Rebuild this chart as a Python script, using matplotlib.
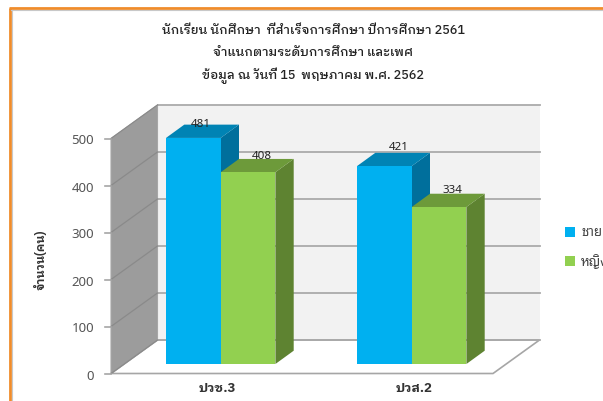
import matplotlib
matplotlib.use('Agg')
import matplotlib.pyplot as plt

plt.rcParams['font.family'] = ['Noto Sans Thai Looped', 'Noto Sans', 'DejaVu Sans']
HEAD = ['IBM Plex Sans Thai Looped', 'Noto Sans Thai Looped', 'DejaVu Sans']

categories = ['ปวช.3', 'ปวส.2']
series_names = ['ชาย', 'หญิง']
male = [481, 421]
female = [408, 334]
yticks = [0, 100, 200, 300, 400, 500]
title_lines = ['นักเรียน นักศึกษา  ที่สำเร็จการศึกษา ปีการศึกษา 2561',
               'จำแนกตามระดับการศึกษา และเพศ',
               'ข้อมูล ณ วันที่ 15  พฤษภาคม พ.ศ. 2562']
ylabel = 'จำนวน(คน)'

W, H = 603, 401
fig = plt.figure(figsize=(W/100, H/100), dpi=100)
ax = fig.add_axes([0, 0, 1, 1])
ax.set_xlim(0, W); ax.set_ylim(H, 0); ax.axis('off')

def val(v):
    return 373.5 - v*0.47

FX0, FX1, DX, DY = 111, 493, 46.5, 33.5
BX1 = FX1 + DX
ax.add_patch(plt.Polygon([(FX0+DX, val(500)-DY), (BX1, val(500)-DY), (BX1, val(0)-DY), (FX0+DX, val(0)-DY)], fc='#f2f2f2', ec='none', zorder=1))
ax.add_patch(plt.Polygon([(FX0, val(0)), (FX1, val(0)), (BX1, val(0)-DY), (FX0+DX, val(0)-DY)], fc='white', ec='#a6a6a6', lw=1.2, zorder=2))
ax.add_patch(plt.Polygon([(FX0, val(500)), (FX0+DX, val(500)-DY), (FX0+DX, val(0)-DY), (FX0, val(0))], fc='#9c9c9c', ec='#a6a6a6', lw=0.8, zorder=2))
for t in yticks:
    y = val(t)
    ax.plot([FX0, FX0+DX], [y, y-DY], color='#8a8a8a', lw=0.9, zorder=3)
    ax.plot([FX0+DX, BX1], [y-DY, y-DY], color='#aaaaaa', lw=1.3, zorder=2)
    ax.plot([FX0-6, FX0], [y, y], color='#a6a6a6', lw=1.2, zorder=3)
    ax.text(94, y+2.5, str(t), ha='right', va='center', fontsize=9.5, color='#555555', zorder=6)

def bar(x0, x1, v, front, side, top, lab_dx, lab_dy):
    base = 364
    y = base - v*0.47
    dx, dy = 18.3, 13.3
    ax.add_patch(plt.Polygon([(x1, y), (x1+dx, y-dy), (x1+dx, base-dy), (x1, base)], fc=side, ec='none', zorder=4))
    ax.add_patch(plt.Polygon([(x0, y), (x0+dx, y-dy), (x1+dx, y-dy), (x1, y)], fc=top, ec='none', zorder=4))
    ax.add_patch(plt.Rectangle((x0, y), x1-x0, base-y, fc=front, ec='none', zorder=4))
    ax.text((x0+x1)/2+lab_dx, y-dy-lab_dy, str(v), ha='center', va='center', fontsize=8.3, color='#222222', zorder=7)

starts = [166, 357]
BW = 54.7
cat_x = [217, 414]
male_off = [(7, 0.5), (14, 5.5)]
female_off = [(14, 2.5), (13, 3.5)]
for i, (s, m, f, c) in enumerate(zip(starts, male, female, categories)):
    bar(s, s+BW, m, '#00b0f0', '#006f9c', '#0083b4', *male_off[i])
    bar(s+BW, s+2*BW, f, '#92d050', '#5e8331', '#6d9a3a', *female_off[i])
    ax.text(cat_x[i], 388, c, ha='center', va='center', fontsize=9.5, fontweight='bold', family=HEAD, color='#333333', zorder=6)

for y, t in zip([31, 53, 76], title_lines):
    ax.text(313, y, t, ha='center', va='center', fontsize=9.1, fontweight='medium', family=HEAD, color='#222222')
ax.text(41, 260, ylabel, rotation=90, ha='center', va='center', fontsize=8.3, fontweight='bold', family=HEAD, color='#333333')

for y, c, t in zip([232, 261], ['#00b0f0', '#92d050'], series_names):
    ax.add_patch(plt.Rectangle((565, y-5), 10, 10, fc=c, ec='none'))
    ax.text(581, y+1, t, ha='left', va='center', fontsize=9.5, color='#444444', clip_on=True)

ax.plot([9.5, 9.5], [H, 8], color='#f08c2a', lw=2, solid_capstyle='butt', zorder=8)
ax.plot([9, W], [8, 8], color='#f08c2a', lw=2, solid_capstyle='butt', zorder=8)
ax.plot([11.5, 11.5], [H, 10], color='#c8c8c8', lw=0.8, zorder=8)
ax.plot([11, W], [9.7, 9.7], color='#c8c8c8', lw=0.8, zorder=8)

fig.savefig('out.png', dpi=100)
